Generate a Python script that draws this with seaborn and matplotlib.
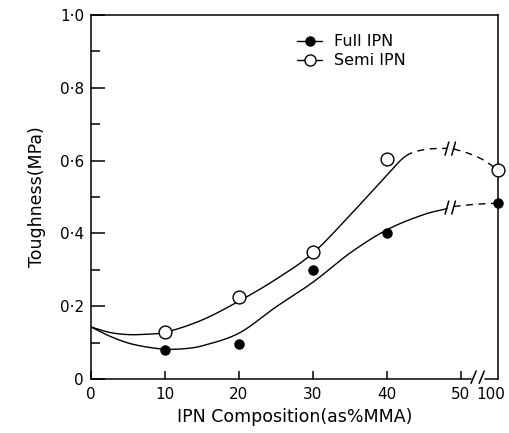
import numpy as np
import pandas as pd
import matplotlib
matplotlib.use("Agg")
import matplotlib.pyplot as plt
from matplotlib.lines import Line2D
from matplotlib.transforms import ScaledTranslation
import seaborn as sns

# ---------------- data ----------------
composition = [10, 20, 30, 40, 100]          # % MMA
full_ipn = [0.08, 0.096, 0.30, 0.40, 0.483]  # MPa
semi_ipn = [0.129, 0.225, 0.349, 0.604, 0.574]

# hand-drawn guide curves (knots)
full_curve_x = [0, 2.5, 5, 7.5, 10, 12.5, 15, 20, 25, 30, 35, 40, 45, 48.1]
full_curve_y = [0.143, 0.118, 0.099, 0.088, 0.082, 0.083, 0.091, 0.126, 0.198,
                0.266, 0.346, 0.41, 0.452, 0.468]
full_dash_x = [49.0, 52, 55]
full_dash_y = [0.474, 0.480, 0.483]

semi_curve_x = [0, 2.5, 5, 7.5, 10, 15, 20, 25, 30, 35, 40, 42.5, 45, 48.1]
semi_curve_y = [0.143, 0.128, 0.122, 0.123, 0.128, 0.162, 0.214, 0.274,
                0.346, 0.45, 0.56, 0.612, 0.630, 0.634]
semi_solid_end = 42.5
semi_dash2_x = [49.0, 51, 53, 55]
semi_dash2_y = [0.632, 0.620, 0.602, 0.574]

x_ticks = [0, 10, 20, 30, 40, 50, 100]
y_ticks = [0, 0.2, 0.4, 0.6, 0.8, 1.0]
y_labels = ["0", "0·2", "0·4", "0·6", "0·8", "1·0"]

# the axis is broken between 50 and 100: 100 sits at position 55
BREAK_LO, BREAK_POS = 50, 55


def to_pos(v):
    return v if v <= BREAK_LO else BREAK_POS


def smooth(xs, ys, n=40):
    xs = np.asarray(xs, float)
    ys = np.asarray(ys, float)
    m = np.empty_like(ys)
    m[1:-1] = (ys[2:] - ys[:-2]) / (xs[2:] - xs[:-2])
    m[0] = (ys[1] - ys[0]) / (xs[1] - xs[0])
    m[-1] = (ys[-1] - ys[-2]) / (xs[-1] - xs[-2])
    ox, oy = [], []
    for i in range(len(xs) - 1):
        h = xs[i + 1] - xs[i]
        t = np.linspace(0, 1, n, endpoint=(i == len(xs) - 2))
        h00 = 2 * t**3 - 3 * t**2 + 1
        h10 = t**3 - 2 * t**2 + t
        h01 = -2 * t**3 + 3 * t**2
        h11 = t**3 - t**2
        ox.append(xs[i] + t * h)
        oy.append(h00 * ys[i] + h10 * h * m[i] + h01 * ys[i + 1] + h11 * h * m[i + 1])
    return np.concatenate(ox), np.concatenate(oy)


# ---------------- style ----------------
sns.set_theme(style="ticks")
plt.rcParams["font.family"] = ["DejaVu Sans"]
plt.rcParams["axes.linewidth"] = 1.1
plt.rcParams["text.color"] = "black"
plt.rcParams["axes.labelcolor"] = "black"
plt.rcParams["xtick.color"] = "black"
plt.rcParams["ytick.color"] = "black"

fig = plt.figure(figsize=(5.09, 4.33), dpi=100)
ax = fig.add_axes([91 / 509, 1 - 379 / 433, (498 - 91) / 509, (379 - 15) / 433])

lw = 1.0
# full IPN curve
sx, sy = smooth(full_curve_x, full_curve_y)
sns.lineplot(x=sx, y=sy, ax=ax, color="black", lw=lw, sort=False, estimator=None)
sx, sy = smooth(full_dash_x, full_dash_y, n=20)
ax.plot(sx, sy, color="black", lw=lw, dashes=(5, 4))

# semi IPN curve: solid then dashed
sx, sy = smooth(semi_curve_x, semi_curve_y)
solid = sx <= semi_solid_end
sns.lineplot(x=sx[solid], y=sy[solid], ax=ax, color="black", lw=lw, sort=False,
             estimator=None)
ax.plot(sx[~solid], sy[~solid], color="black", lw=lw, dashes=(5, 4))
sx, sy = smooth(semi_dash2_x, semi_dash2_y, n=20)
ax.plot(sx, sy, color="black", lw=lw, dashes=(5, 4))

# break marks on curves
for yb in [0.471, 0.633]:
    for xb in [48.1, 49.0]:
        ax.plot([xb - 0.25, xb + 0.25], [yb - 0.018, yb + 0.018],
                color="black", lw=1.1)

# points
df = pd.DataFrame({
    "pos": [to_pos(v) for v in composition] * 2,
    "tough": full_ipn + semi_ipn,
    "kind": ["Full IPN"] * len(composition) + ["Semi IPN"] * len(composition),
})
sns.scatterplot(data=df[df.kind == "Full IPN"], x="pos", y="tough", ax=ax,
                color="black", s=45, edgecolor="black", linewidth=0.8,
                zorder=5, clip_on=False, legend=False)
sns.scatterplot(data=df[df.kind == "Semi IPN"], x="pos", y="tough", ax=ax,
                color="white", s=85, edgecolor="black", linewidth=1.0,
                zorder=5, clip_on=False, legend=False)

# axes
ax.set_xlim(0, BREAK_POS)
ax.set_ylim(0, 1.0)
ax.set_xticks([to_pos(v) for v in x_ticks])
ax.set_xticklabels([str(v) for v in x_ticks])
ax.set_yticks(y_ticks)
ax.set_yticklabels(y_labels)
ax.set_yticks(np.arange(0.1, 1.0, 0.2), minor=True)
ax.tick_params(axis="y", which="major", direction="in", length=10, width=1.1,
               pad=5, labelsize=11, left=True, right=False)
ax.tick_params(axis="y", which="minor", direction="in", length=6.5, width=1.1,
               left=True, right=False)
ax.tick_params(axis="x", which="major", direction="in", length=5.5, width=1.1,
               pad=6, labelsize=11, top=False)
lbl = ax.get_xticklabels()[-1]
lbl.set_transform(lbl.get_transform() + ScaledTranslation(-5 / 72, 0, fig.dpi_scale_trans))
ax.xaxis.get_major_ticks()[-1].tick1line.set_visible(False)

for s in ["top", "right", "left"]:
    ax.spines[s].set_visible(True)
    ax.spines[s].set_color("black")
ax.spines["bottom"].set_visible(False)

# broken bottom axis
ax.plot([0, 51.4], [0, 0], color="black", lw=1.1, clip_on=False, zorder=6)
ax.plot([53.2, 55], [0, 0], color="black", lw=1.1, clip_on=False, zorder=6)
for xb in [51.7, 52.8]:
    ax.plot([xb - 0.35, xb + 0.35], [-0.012, 0.022], color="black", lw=1.1,
            clip_on=False, zorder=6)

ax.set_xlabel("IPN Composition(as%MMA)", fontsize=12.5, labelpad=4)
ax.set_ylabel("Toughness(MPa)", fontsize=12.5, labelpad=10)

handles = [
    Line2D([], [], color="black", lw=1.0, marker="o", markersize=6.5,
           markerfacecolor="black", markeredgecolor="black"),
    Line2D([], [], color="black", lw=1.0, marker="o", markersize=8,
           markerfacecolor="white", markeredgecolor="black"),
]
ax.legend(handles, ["Full IPN", "Semi IPN"], loc="upper left",
          bbox_to_anchor=(0.49, 0.965), frameon=False, fontsize=11.5,
          handlelength=1.6, handletextpad=0.7, labelspacing=0.25,
          borderaxespad=0)

fig.savefig("out.png", dpi=100)
